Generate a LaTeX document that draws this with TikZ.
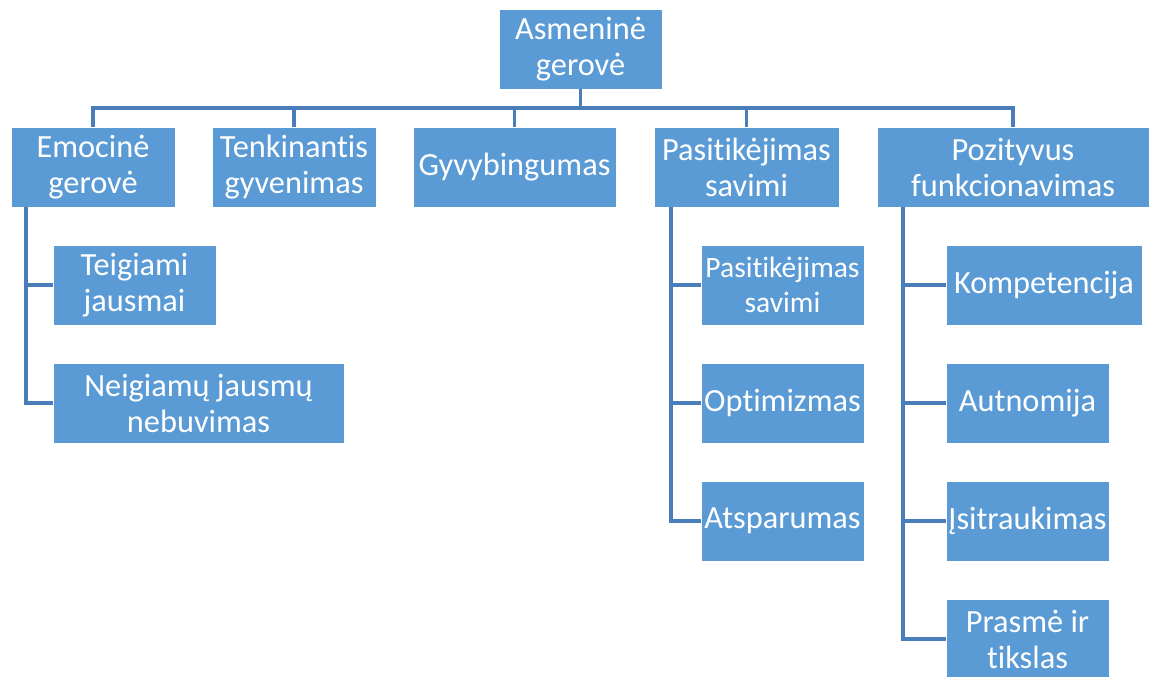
\documentclass[tikz,border=0pt]{standalone}
\usepackage{fontspec}
\setmainfont{Carlito}[Ligatures=NoCommon]
\definecolor{boxblue}{HTML}{5B9BD5}
\definecolor{lineblue}{HTML}{4A7EBB}

\begin{document}
\begin{tikzpicture}[x=0.025cm, y=-0.025cm,
        main/.style = {draw=white, line width=0.5pt, fill=boxblue, text=white, align=center,
            minimum height=2cm, inner sep=1pt, font=\fontsize{23}{25.6}\selectfont},
        link/.style = {draw=lineblue, line width=2.4pt}]
        \useasboundingbox (0,0) rectangle (1152,677);
        \node[main, minimum width=4.075cm] (top) at (580.5,49) {Asmeninė\\gerovė};
        \node[main, minimum width=4.1cm] (emo) at (93,167) {Emocinė\\gerovė};
        \node[main, minimum width=4.1cm] (tenk) at (294,167) {Tenkinantis\\gyvenimas};
        \node[main, minimum width=5.075cm] (gyv) at (514.5,167) {Gyvybingumas};
        \node[main, minimum width=4.625cm] (pas) at (746.5,167) {Pasitikėjimas\\savimi};
        \node[main, minimum width=6.8cm] (poz) at (1013,167) {Pozityvus\\funkcionavimas};
        \node[main, minimum width=4.075cm] (teig) at (134.5,285) {Teigiami\\jausmai};
        \node[main, minimum width=7.275cm] (neig) at (198.5,403) {Neigiamų jausmų\\nebuvimas};
        \node[main, minimum width=4.075cm, font=\fontsize{21}{24.5}\selectfont] (pasit) at (782.5,285) {Pasitikėjimas\\savimi};
        \node[main, minimum width=4.075cm] (opt) at (782.5,403) {Optimizmas};
        \node[main, minimum width=4.075cm] (atsp) at (782.5,521) {Atsparumas};
        \node[main, minimum width=4.9cm] (komp) at (1044,285) {Kompetencija};
        \node[main, minimum width=4.075cm] (aut) at (1027.5,403) {Autnomija};
        \node[main, minimum width=4.075cm] (isit) at (1027.5,521) {Įsitraukimas};
        \node[main, minimum width=4.075cm] (prasm) at (1027.5,639) {Prasmė ir\\tikslas};
        % top level
        \coordinate (bar) at (580.5,108);
        \draw[link] (top.south) -- (bar);
        \foreach \n in {emo, tenk, gyv, pas, poz}
            \draw[link] (bar) -| (\n.north);
        % second level
        \coordinate (emoL) at (26,207);
        \coordinate (pasL) at (671,207);
        \coordinate (pozL) at (903,207);
        \draw[link] (emoL) |- (teig.west);
        \draw[link] (emoL) |- (neig.west);
        \foreach \n in {pasit, opt, atsp}
            \draw[link] (pasL) |- (\n.west);
        \foreach \n in {komp, aut, isit, prasm}
            \draw[link] (pozL) |- (\n.west);
    \end{tikzpicture}
\end{document}
